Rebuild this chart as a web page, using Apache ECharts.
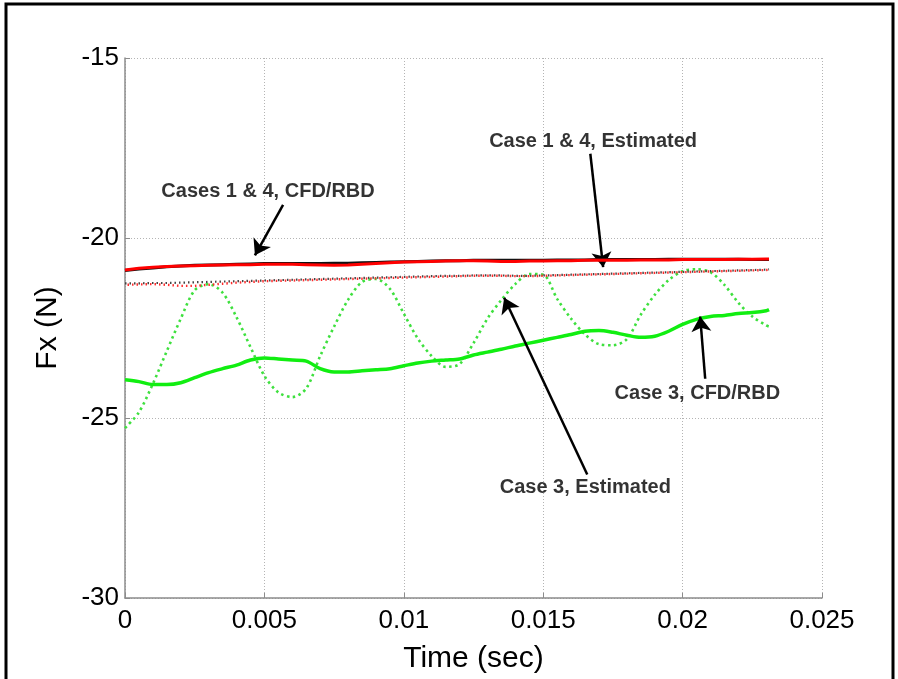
<!DOCTYPE html>
<html>
<head>
<meta charset="utf-8">
<script src="https://cdn.jsdelivr.net/npm/echarts@6/dist/echarts.min.js"></script>
<style>
  html, body { margin: 0; padding: 0; background: #fff; }
  #chart { width: 898px; height: 679px; }
</style>
</head>
<body>
<div id="chart"></div>
<script>
// Sample times (s)
const times = [0, 0.0005, 0.001, 0.0015, 0.002, 0.0025, 0.003, 0.0035, 0.004, 0.0045,
  0.005, 0.0055, 0.006, 0.0065, 0.007, 0.0075, 0.008, 0.0085, 0.009, 0.0095,
  0.01, 0.0105, 0.011, 0.0115, 0.012, 0.0125, 0.013, 0.0135, 0.014, 0.0145,
  0.015, 0.0155, 0.016, 0.0165, 0.017, 0.0175, 0.018, 0.0185, 0.019, 0.0195,
  0.02, 0.0205, 0.021, 0.0215, 0.022, 0.0225, 0.023, 0.0231];

// Fx (N), Case 1 & 4 CFD/RBD (black and red solid)
const case1Cfd = [-20.90, -20.86, -20.83, -20.80, -20.78, -20.76, -20.75, -20.74, -20.73, -20.72,
  -20.71, -20.71, -20.71, -20.71, -20.71, -20.70, -20.70, -20.69, -20.68, -20.67,
  -20.66, -20.65, -20.64, -20.63, -20.63, -20.62, -20.62, -20.62, -20.62, -20.62,
  -20.62, -20.61, -20.61, -20.61, -20.60, -20.60, -20.60, -20.60, -20.60, -20.59,
  -20.59, -20.59, -20.59, -20.59, -20.59, -20.60, -20.60, -20.60];
const case4Cfd = [-20.89, -20.84, -20.81, -20.79, -20.78, -20.77, -20.76, -20.75, -20.74, -20.74,
  -20.73, -20.73, -20.73, -20.74, -20.75, -20.76, -20.75, -20.73, -20.71, -20.69,
  -20.67, -20.66, -20.65, -20.64, -20.63, -20.63, -20.64, -20.65, -20.65, -20.64,
  -20.64, -20.63, -20.63, -20.62, -20.62, -20.62, -20.62, -20.61, -20.61, -20.61,
  -20.60, -20.60, -20.60, -20.60, -20.59, -20.59, -20.58, -20.58];

// Fx (N), Case 1 & 4 Estimated (black and red dotted)
const case1Est = [-21.26, -21.26, -21.25, -21.25, -21.24, -21.23, -21.22, -21.21, -21.20, -21.19,
  -21.18, -21.17, -21.16, -21.15, -21.14, -21.13, -21.12, -21.11, -21.10, -21.09,
  -21.08, -21.07, -21.06, -21.05, -21.05, -21.04, -21.04, -21.04, -21.05, -21.05,
  -21.04, -21.03, -21.02, -21.01, -21.00, -20.99, -20.98, -20.97, -20.96, -20.95,
  -20.94, -20.93, -20.92, -20.91, -20.90, -20.89, -20.88, -20.87];
const case4Est = [-21.30, -21.29, -21.28, -21.30, -21.33, -21.33, -21.30, -21.27, -21.24, -21.22,
  -21.20, -21.19, -21.18, -21.17, -21.16, -21.15, -21.14, -21.13, -21.12, -21.11,
  -21.10, -21.09, -21.08, -21.07, -21.06, -21.05, -21.05, -21.05, -21.06, -21.06,
  -21.05, -21.04, -21.03, -21.02, -21.01, -21.00, -20.99, -20.98, -20.97, -20.96,
  -20.95, -20.94, -20.93, -20.92, -20.91, -20.90, -20.89, -20.88];

// Fx (N), Case 3 CFD/RBD (green solid)
const case3Cfd = [-23.94, -23.99, -24.07, -24.07, -24.02, -23.88, -23.74, -23.63, -23.53, -23.39,
  -23.33, -23.36, -23.39, -23.42, -23.63, -23.72, -23.72, -23.69, -23.66, -23.63,
  -23.55, -23.47, -23.42, -23.39, -23.36, -23.25, -23.17, -23.09, -23.00, -22.92,
  -22.84, -22.76, -22.68, -22.59, -22.57, -22.62, -22.70, -22.76, -22.73, -22.59,
  -22.40, -22.26, -22.18, -22.15, -22.10, -22.07, -22.02, -21.99];

// Fx (N), Case 3 Estimated (green dotted)
const case3Est = [-25.28, -24.84, -24.05, -23.14, -22.24, -21.45, -21.28, -21.52, -22.20, -23.03,
  -23.83, -24.29, -24.42, -24.18, -23.28, -22.46, -21.72, -21.22, -21.14, -21.41,
  -22.10, -22.79, -23.28, -23.58, -23.50, -22.92, -22.24, -21.72, -21.28, -21.00,
  -21.02, -21.69, -22.24, -22.68, -22.95, -22.98, -22.81, -22.13, -21.58, -21.17,
  -20.92, -20.87, -20.95, -21.30, -21.80, -22.18, -22.43, -22.46];

// Axis ticks
const xTicks = [0, 0.005, 0.01, 0.015, 0.02, 0.025];
const xTickLabels = ['0', '0.005', '0.01', '0.015', '0.02', '0.025'];
const yTicks = [-30, -25, -20, -15];
const yTickLabels = ['-30', '-25', '-20', '-15'];

// Callouts: text anchor [t, Fx], arrow tail [t, Fx], arrow head [t, Fx]
const calloutTexts = ['Case 1 & 4, Estimated', 'Cases 1 & 4, CFD/RBD', 'Case 3, CFD/RBD', 'Case 3, Estimated'];
const calloutAt = [[0.01679, -17.33], [0.00513, -18.70], [0.02053, -24.32], [0.01651, -26.92]];
const arrowTail = [[0.01669, -17.66], [0.00567, -19.08], [0.02081, -23.91], [0.01658, -26.57]];
const arrowHead = [[0.01715, -20.81], [0.00466, -20.48], [0.02063, -22.18], [0.01360, -21.66]];

const pair = (vals) => times.map((t, i) => [t, vals[i]]);
const labelFont = "'Liberation Sans', Arial, sans-serif";

const chart = echarts.init(document.getElementById('chart'), null, { renderer: 'canvas' });

function pickLabel(ticks, labels) {
  return function (v) {
    for (let i = 0; i < ticks.length; i++) {
      if (Math.abs(ticks[i] - v) < 1e-9) return labels[i];
    }
    return '';
  };
}

const option = {
  backgroundColor: '#fff',
  animation: false,
  graphic: [{
    type: 'rect',
    shape: { x: 6, y: 4, width: 887, height: 720 },
    style: { fill: 'none', stroke: '#000', lineWidth: 3 },
    silent: true,
    z: 100
  }],
  grid: { left: 125, right: 76, top: 58, bottom: 74 },
  xAxis: {
    type: 'value',
    min: 0, max: 0.025, interval: 0.005,
    name: 'Time (sec)',
    nameLocation: 'middle',
    nameGap: 46,
    nameTextStyle: { color: '#000', fontSize: 30, fontFamily: labelFont },
    axisLine: { show: true, lineStyle: { color: '#8c8c8c', width: 1.5 } },
    axisTick: { show: true, inside: true, length: 5, lineStyle: { color: '#8c8c8c' } },
    axisLabel: { color: '#000', fontSize: 26, fontFamily: labelFont, margin: 10,
      formatter: pickLabel(xTicks, xTickLabels) },
    splitLine: { show: true, lineStyle: { color: '#b4b4b4', type: [1, 2], width: 1 } }
  },
  yAxis: {
    type: 'value',
    min: -30, max: -15, interval: 5,
    name: 'Fx (N)',
    nameLocation: 'middle',
    nameGap: 62,
    nameTextStyle: { color: '#000', fontSize: 30, fontFamily: labelFont },
    axisLine: { show: true, lineStyle: { color: '#8c8c8c', width: 1.5 } },
    axisTick: { show: true, inside: true, length: 5, lineStyle: { color: '#8c8c8c' } },
    axisLabel: { color: '#000', fontSize: 26, fontFamily: labelFont, margin: 6,
      formatter: pickLabel(yTicks, yTickLabels) },
    splitLine: { show: true, lineStyle: { color: '#b4b4b4', type: [1, 2], width: 1 } }
  },
  series: [
    { name: 'Case 3 Estimated', type: 'line', data: pair(case3Est), showSymbol: false, smooth: 0.3,
      lineStyle: { color: '#3ee03e', width: 2.6, type: [2.5, 3.5] }, z: 2 },
    { name: 'Case 1 Estimated', type: 'line', data: pair(case1Est), showSymbol: false,
      lineStyle: { color: '#444', width: 2.2, type: [1.5, 3] }, z: 3 },
    { name: 'Case 4 Estimated', type: 'line', data: pair(case4Est), showSymbol: false,
      lineStyle: { color: '#ff2a2a', width: 2.4, type: [1.5, 3], dashOffset: 2 }, z: 3 },
    { name: 'Case 3 CFD/RBD', type: 'line', data: pair(case3Cfd), showSymbol: false, smooth: 0.3,
      lineStyle: { color: '#11ee11', width: 3.5 }, z: 4 },
    { name: 'Case 1 CFD/RBD', type: 'line', data: pair(case1Cfd), showSymbol: false,
      lineStyle: { color: '#111', width: 3 }, z: 5 },
    { name: 'Case 4 CFD/RBD', type: 'line', data: pair(case4Cfd), showSymbol: false,
      lineStyle: { color: '#ff0000', width: 3 }, z: 6 },
    {
      name: 'callouts', type: 'scatter', symbolSize: 0, z: 10,
      data: calloutAt.map((p, i) => ({ value: p, name: calloutTexts[i] })),
      label: {
        show: true, position: 'inside', formatter: '{b}',
        color: '#000', fontSize: 20, fontWeight: 'bold', fontFamily: labelFont
      },
      emphasis: { disabled: true },
      markLine: {
        silent: true, animation: false,
        symbol: ['none', 'arrow'], symbolSize: 15,
        label: { show: false },
        lineStyle: { color: '#000', width: 2.5, type: 'solid', opacity: 1 },
        emphasis: { disabled: true },
        data: arrowTail.map((p, i) => [{ coord: p }, { coord: arrowHead[i] }])
      }
    }
  ]
};

chart.setOption(option);
</script>
</body>
</html>
